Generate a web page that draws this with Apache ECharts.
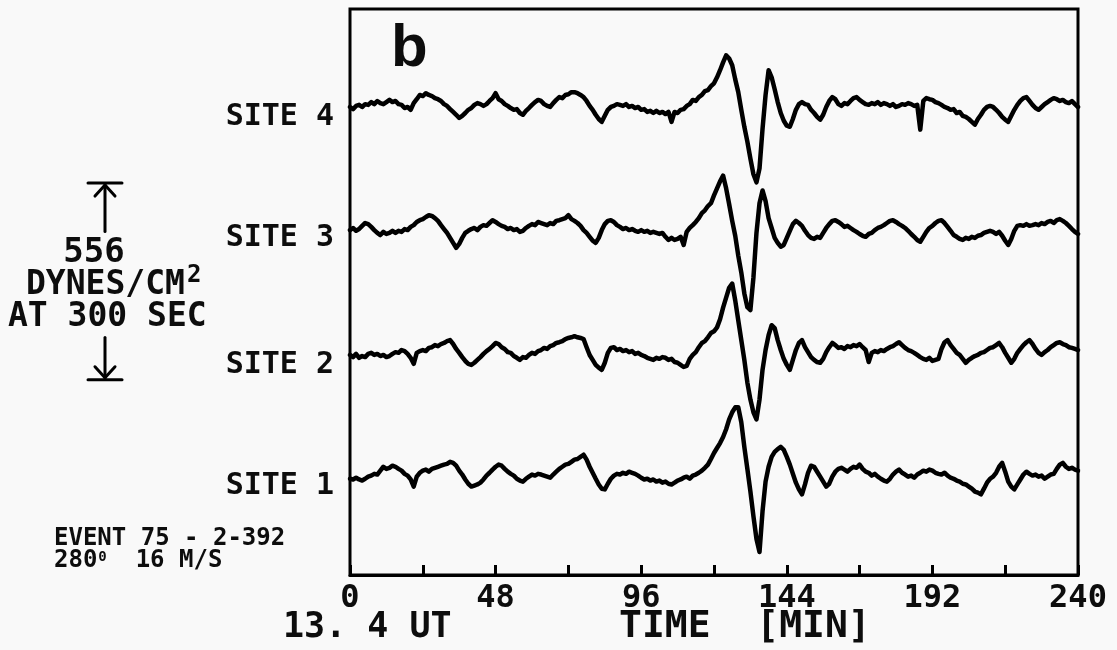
<!DOCTYPE html>
<html>
<head>
<meta charset="utf-8">
<script src="https://cdn.jsdelivr.net/npm/echarts@6/dist/echarts.min.js"></script>
<style>
  html, body { margin: 0; padding: 0; background: #f9f9f9; }
  #chart { width: 1117px; height: 650px; }
</style>
</head>
<body>
<div id="chart"></div>
<script>
// Microbarograph pressure traces, one sample per minute from 0 to 240 min.
// Values are pressure deviations in dynes/cm^2 about each site's trace level.
const START_MIN = 0;
const STEP_MIN = 1;

const site1 = [
  -6,-8,-3,-8,-11,-6,0,3,8,6,
  17,28,22,25,31,28,22,17,8,3,
  -8,-28,0,11,17,20,14,22,25,28,
  31,34,36,42,39,31,17,6,-8,-20,
  -28,-25,-22,-17,-8,3,11,20,28,34,
  31,22,14,8,3,-6,-11,-14,-6,0,
  6,3,8,6,3,0,-3,6,14,22,
  28,34,36,42,48,50,56,62,48,28,
  11,-6,-22,-34,-36,-20,-6,3,8,6,
  11,8,14,11,8,3,-3,-8,-6,-11,
  -8,-14,-11,-17,-14,-20,-22,-17,-11,-8,
  -3,0,-6,3,6,11,17,25,34,50,
  67,81,95,112,134,162,182,196,196,154,
  84,22,-42,-112,-176,-213,-98,-14,28,56,
  70,78,84,76,56,34,8,-17,-36,-50,
  -22,11,31,28,14,0,-14,-28,-20,0,
  14,22,25,20,14,22,28,25,34,22,
  14,11,3,8,0,-6,-11,-14,-6,6,
  14,20,11,6,0,3,-3,6,11,17,
  14,20,17,11,8,6,11,3,-3,-6,
  -11,-14,-20,-22,-28,-34,-42,-45,-50,-34,
  -17,-6,0,11,28,39,14,-14,-28,-36,
  -22,-8,6,14,8,3,6,0,3,-6,
  0,6,8,22,34,39,28,22,25,20,
  17
];

const site2 = [
  0,-6,3,-8,-3,-6,3,6,0,3,
  -3,0,-6,-3,3,8,6,14,11,3,
  -8,-25,6,11,14,11,20,22,28,25,
  31,34,39,42,31,17,6,-6,-17,-25,
  -28,-22,-14,-6,3,11,17,25,34,31,
  22,17,8,6,-3,-8,-14,-6,-8,0,
  6,3,11,14,20,17,25,28,34,36,
  39,45,48,50,53,50,48,45,22,0,
  -14,-28,-36,-42,-22,6,20,22,14,17,
  11,14,8,11,3,6,0,-3,-8,-11,
  -14,-8,-11,-6,-8,-14,-11,-20,-22,-28,
  -34,-31,-11,0,8,22,34,39,50,62,
  67,78,101,134,162,190,202,154,98,42,
  -14,-78,-126,-162,-182,-126,-42,14,56,84,
  76,42,14,-11,-28,-42,-14,14,34,42,
  22,8,-6,-14,-20,-22,-11,8,22,34,
  28,20,22,17,25,22,28,25,31,22,
  14,-20,6,11,8,14,11,17,22,25,
  31,36,28,20,14,11,6,0,-6,-11,
  -14,-8,-17,-14,-11,17,36,42,28,17,
  6,0,-11,-22,-14,-8,-3,0,6,8,
  14,20,22,28,34,22,6,-8,-22,-11,
  6,17,28,36,42,31,17,6,0,8,
  14,22,28,34,36,31,28,22,20,17,
  14
];

const site3 = [
  -6,0,-8,-3,6,14,11,3,-6,-14,
  -20,-11,-17,-14,-8,-14,-8,-11,-3,-6,
  3,8,17,22,25,31,36,34,28,20,
  8,-3,-14,-28,-42,-56,-45,-28,-14,-8,
  -3,0,-6,3,8,6,14,22,17,11,
  6,3,-3,0,-6,-3,-11,-8,0,6,
  11,8,17,14,11,8,14,11,20,22,
  25,28,36,25,20,14,6,-6,-14,-25,
  -36,-42,-28,-6,11,20,22,17,8,3,
  -3,0,-6,-3,-8,-11,-6,-11,-8,-14,
  -11,-14,-17,-14,-25,-34,-28,-34,-31,-25,
  -48,-11,0,8,17,28,42,50,62,70,
  92,112,132,148,112,67,20,-22,-78,-126,
  -185,-224,-232,-140,-14,70,106,76,28,0,
  -28,-42,-53,-48,-28,-8,11,20,14,6,
  -8,-20,-28,-31,-25,-28,-14,0,11,20,
  22,17,11,3,6,0,-6,-11,-17,-22,
  -25,-17,-14,-6,0,3,8,14,20,22,
  17,11,6,0,-8,-17,-25,-34,-39,-25,
  -11,0,6,14,20,22,14,3,-8,-20,
  -25,-31,-34,-28,-31,-25,-28,-22,-20,-14,
  -11,-8,-11,-17,-11,-22,-36,-48,-31,-8,
  6,8,6,11,6,8,11,8,14,11,
  17,20,14,22,25,20,14,6,-3,-11,
  -17
];

const site4 = [
  0,-6,3,6,0,8,6,14,8,17,
  11,8,14,20,14,17,8,6,-3,0,
  -8,11,22,34,31,39,34,31,25,22,
  17,8,3,-6,-14,-22,-31,-25,-17,-8,
  -3,6,11,8,3,8,17,25,39,22,
  17,8,3,-3,-8,-6,-17,-22,-11,-3,
  6,14,20,17,8,3,0,11,20,28,
  25,34,36,42,42,39,34,28,17,3,
  -8,-22,-34,-42,-25,-8,0,3,8,6,
  3,8,0,3,-3,0,-8,-6,-14,-11,
  -17,-11,-17,-14,-20,-14,-42,-14,-17,-8,
  -6,3,8,20,17,28,34,45,48,59,
  67,84,104,126,146,137,118,78,42,-8,
  -56,-98,-146,-190,-213,-174,-62,34,104,84,
  50,14,-17,-39,-53,-56,-34,-8,8,14,
  8,6,-8,-17,-28,-36,-22,0,17,28,
  22,8,3,11,8,17,25,28,20,14,
  8,6,11,8,14,6,11,8,3,8,
  0,3,8,6,11,8,3,6,-64,17,
  25,22,20,14,11,6,0,-3,-8,-6,
  -17,-14,-25,-28,-34,-42,-50,-34,-22,-8,
  0,3,0,-8,-17,-28,-36,-42,-25,-8,
  6,17,25,28,17,6,-3,-8,0,8,
  14,20,25,22,17,20,14,11,17,8,
  0
];

const siteNames = ['SITE 1', 'SITE 2', 'SITE 3', 'SITE 4'];
const siteTraces = [site1, site2, site3, site4];
// Level (dynes/cm^2 on the stacked scale) about which each trace is drawn
const siteLevels = [278, 622, 981, 1323];

const timeTickLabels = [0, 48, 96, 144, 192, 240];
const TIME_MAX = 240;
const TIME_TICK_STEP = 24;

// Calibration bar
const SCALE_DYN = 556;
const SCALE_PERIOD_SEC = 300;

const MONO = "'DejaVu Sans Mono', monospace";
const INK = '#0d0d0d';

const chart = echarts.init(document.getElementById('chart'), null, { renderer: 'canvas' });

const series = siteTraces.map((trace, k) => ({
  name: siteNames[k],
  type: 'line',
  showSymbol: false,
  silent: true,
  animation: false,
  lineStyle: { color: '#000', width: 4.5, join: 'round', cap: 'round' },
  data: trace.map((v, i) => [START_MIN + i * STEP_MIN, siteLevels[k] + v])
}));

const option = {
  backgroundColor: '#f9f9f9',
  animation: false,
  title: {
    text: 'b',
    left: 386,
    top: 14,
    textStyle: { fontFamily: "'Liberation Sans', sans-serif", fontWeight: 'bold', fontSize: 60, color: INK }
  },
  grid: {
    left: 350, top: 9, right: 39, bottom: 75,
    show: true, borderColor: '#000', borderWidth: 3, backgroundColor: 'transparent'
  },
  xAxis: {
    type: 'value',
    min: 0,
    max: TIME_MAX,
    interval: TIME_TICK_STEP,
    axisLine: { show: true, lineStyle: { color: '#000', width: 3 } },
    axisTick: { show: true, inside: true, length: 10, lineStyle: { color: '#000', width: 3 } },
    splitLine: { show: false },
    axisLabel: {
      show: true,
      showMinLabel: true,
      showMaxLabel: true,
      margin: 8,
      fontFamily: MONO,
      fontWeight: 'bold',
      fontSize: 32,
      color: INK,
      formatter: (v) => (timeTickLabels.includes(v) ? String(v) : '')
    }
  },
  yAxis: {
    type: 'value',
    min: 0,
    max: 1600,
    axisLine: { show: false },
    axisTick: { show: false },
    splitLine: { show: false },
    axisLabel: { show: false }
  },
  series: series,
  graphic: [
    {
      type: 'text', left: 283, top: 610,
      style: { text: '13. 4 UT', font: `bold 35px ${MONO}`, fill: INK }
    },
    {
      type: 'text', left: 619, top: 608,
      style: { text: 'TIME  [MIN]', font: `bold 38px ${MONO}`, fill: INK }
    },
    {
      type: 'text', left: 54, top: 527,
      style: {
        text: '{a|EVENT 75 - 2-392}\n{a|280}{s|0}{a|  16 M/S}',
        rich: {
          a: { fontFamily: MONO, fontWeight: 'bold', fontSize: 24, lineHeight: 22, fill: INK },
          s: { fontFamily: MONO, fontWeight: 'bold', fontSize: 14, lineHeight: 22, verticalAlign: 'top', fill: INK, padding: [0, 0, 8, 1] }
        }
      }
    }
  ]
};

chart.setOption(option);

// Site names sit beside each trace level, just left of the frame
const siteLabels = siteLevels.map((lv, k) => ({
  type: 'text',
  x: 334,
  y: chart.convertToPixel({ gridIndex: 0 }, [0, lv])[1] + 10,
  style: { text: siteNames[k], font: `bold 30px ${MONO}`, fill: INK, align: 'right', verticalAlign: 'middle' }
}));

// Calibration bar: arrows spanning SCALE_DYN on the same vertical scale as the traces
const SCALE_MID = 830;
const yTop = chart.convertToPixel({ gridIndex: 0 }, [0, SCALE_MID + SCALE_DYN / 2])[1];
const yBot = chart.convertToPixel({ gridIndex: 0 }, [0, SCALE_MID - SCALE_DYN / 2])[1];
const bx = 105;
const stroke = { stroke: '#000', lineWidth: 3, fill: null, lineCap: 'round', lineJoin: 'round' };
const yMid = (yTop + yBot) / 2;

chart.setOption({
  graphic: option.graphic.concat(siteLabels, [
    { type: 'line', shape: { x1: bx - 17, y1: yTop, x2: bx + 17, y2: yTop }, style: stroke },
    { type: 'polyline', shape: { points: [[bx - 10, yTop + 13], [bx, yTop + 2], [bx + 10, yTop + 13]] }, style: stroke },
    { type: 'line', shape: { x1: bx, y1: yTop + 2, x2: bx, y2: yMid - 50 }, style: stroke },
    { type: 'line', shape: { x1: bx, y1: yMid + 56, x2: bx, y2: yBot - 2 }, style: stroke },
    { type: 'polyline', shape: { points: [[bx - 10, yBot - 13], [bx, yBot - 2], [bx + 10, yBot - 13]] }, style: stroke },
    { type: 'line', shape: { x1: bx - 17, y1: yBot, x2: bx + 17, y2: yBot }, style: stroke },
    {
      type: 'text', x: 94, y: yMid - 28,
      style: { text: String(SCALE_DYN), font: `bold 34px ${MONO}`, fill: INK, align: 'center', verticalAlign: 'middle' }
    },
    {
      type: 'text', x: 26, y: yMid + 4,
      style: {
        text: '{a|DYNES/CM}{s|2}',
        verticalAlign: 'middle',
        rich: {
          a: { fontFamily: MONO, fontWeight: 'bold', fontSize: 33, fill: INK },
          s: { fontFamily: MONO, fontWeight: 'bold', fontSize: 24, fill: INK, padding: [0, 0, 20, 2] }
        }
      }
    },
    {
      type: 'text', x: 8, y: yMid + 36,
      style: { text: `AT ${SCALE_PERIOD_SEC} SEC`, font: `bold 33px ${MONO}`, fill: INK, verticalAlign: 'middle' }
    }
  ])
});
</script>
</body>
</html>
